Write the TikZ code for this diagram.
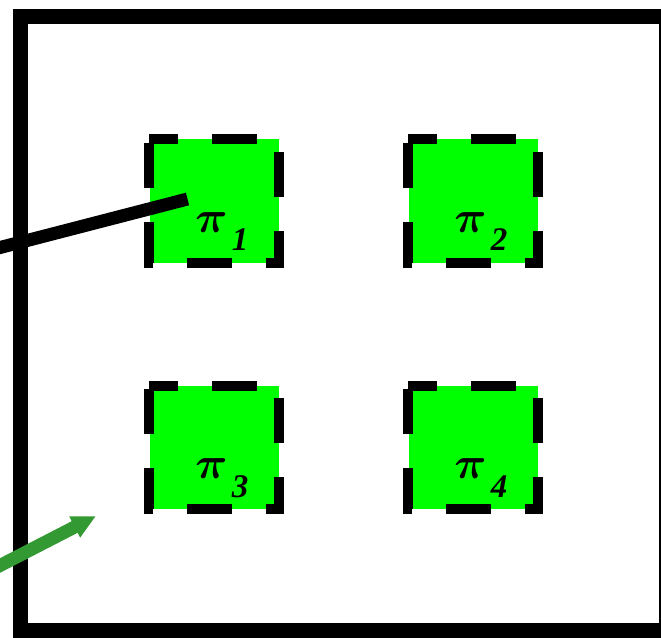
\documentclass[tikz,border=0pt]{standalone}
\usepackage{amsmath}
\usepackage{fontspec}
\setmainfont{Liberation Serif}
\usetikzlibrary{arrows.meta}
\definecolor{boxgreen}{RGB}{0,255,0}
\definecolor{arrowgreen}{RGB}{51,153,51}
\begin{document}
\begin{tikzpicture}[x=1pt,y=-1pt,
  frame/.style={draw=black,line width=15pt},
  piece/.style={fill=boxgreen,inner sep=0pt,minimum width=129pt,minimum height=123.5pt},
  dashedge/.style={draw=black,line width=10pt,dash pattern=on 45pt off 34pt,dash phase=16pt,line join=miter},
  pilabel/.style={font=\Huge,scale=1.8,inner sep=0pt},
  sublabel/.style={font=\fontsize{33}{33}\selectfont\bfseries\itshape,inner sep=0pt},
  pointer/.style={draw=black,line width=13pt},
  greenarrow/.style={draw=arrowgreen,line width=13pt,-{Triangle[length=24pt,width=22pt]}}
]
\useasboundingbox (0,0) rectangle (661,637);
% outer frame
\draw[frame] (20,16) rectangle (666,630);
% green pieces
\node[piece] (s1) at (214,201) {};
\node[piece] (s2) at (473,201) {};
\node[piece] (s3) at (214,447.5) {};
\node[piece] (s4) at (473,447.5) {};
\foreach \s in {s1,s2,s3,s4}{
  \draw[dashedge] (\s.north west) -- (\s.north east) -- (\s.south east) -- (\s.south west) -- (\s.north west);
}
% labels
\foreach \s/\n in {s1/1,s2/2,s3/3,s4/4}{
  \node[pilabel] (p\n) at ([shift={(-2.5,21.5)}]\s.center) {$\boldsymbol{\pi}$};
  \node[sublabel] (d\n) at ([shift={(26,39)}]\s.center) {\n};
}
% pointer line
\coordinate (pstart) at (-20,252.7);
\coordinate (pend) at (187.5,199);
\draw[pointer] (pstart) -- (pend);
% green arrow
\coordinate (astart) at (-20,575.8);
\coordinate (atip) at (96,516);
\draw[greenarrow] (astart) -- (atip);
\end{tikzpicture}
\end{document}
